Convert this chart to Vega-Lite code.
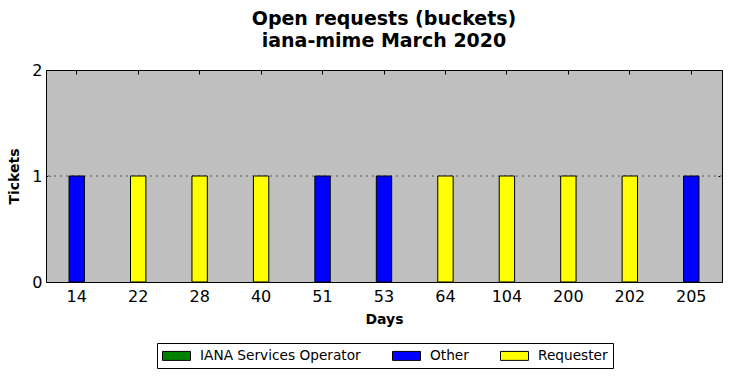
{
  "$schema": "https://vega.github.io/schema/vega-lite/v6.json",
  "autosize": {"type": "none"},
  "width": 676,
  "height": 212,
  "padding": {"left": 46, "top": 70, "right": 9, "bottom": 96},
  "background": "white",
  "title": {
    "text": ["Open requests (buckets)", "iana-mime March 2020"],
    "font": "DejaVu Sans",
    "fontSize": 19,
    "fontWeight": "bold",
    "color": "black",
    "anchor": "middle",
    "offset": 11,
    "lineHeight": 22
  },
  "config": {
    "view": {"fill": "#bfbfbf", "stroke": "black", "strokeWidth": 1},
    "font": "DejaVu Sans",
    "axis": {
      "labelFont": "DejaVu Sans",
      "labelFontSize": 16,
      "labelColor": "black",
      "titleFont": "DejaVu Sans",
      "titleFontSize": 14,
      "titleFontWeight": "bold",
      "titleColor": "black",
      "domain": false,
      "tickColor": "black",
      "tickSize": 4,
      "offset": -4,
      "labelOverlap": false,
      "grid": false
    }
  },
  "resolve": {"axis": {"x": "independent", "y": "independent"}},
  "data": {
    "values": [
      {"days": 14, "role": "Other", "tickets": 1},
      {"days": 22, "role": "Requester", "tickets": 1},
      {"days": 28, "role": "Requester", "tickets": 1},
      {"days": 40, "role": "Requester", "tickets": 1},
      {"days": 51, "role": "Other", "tickets": 1},
      {"days": 53, "role": "Other", "tickets": 1},
      {"days": 64, "role": "Requester", "tickets": 1},
      {"days": 104, "role": "Requester", "tickets": 1},
      {"days": 200, "role": "Requester", "tickets": 1},
      {"days": 202, "role": "Requester", "tickets": 1},
      {"days": 205, "role": "Other", "tickets": 1}
    ]
  },
  "layer": [
    {
      "mark": {"type": "point", "opacity": 0},
      "encoding": {
        "x": {
          "field": "days",
          "type": "ordinal",
          "scale": {"paddingInner": 0.75, "paddingOuter": 0.375},
          "axis": {"orient": "top", "title": null, "labels": false}
        },
        "y": {
          "field": "tickets",
          "type": "quantitative",
          "scale": {"domain": [0, 2], "nice": false},
          "axis": {"orient": "right", "title": null, "labels": false, "values": [0, 1, 2]}
        }
      }
    },
    {
      "mark": {"type": "rule", "color": "#8a8a8a", "strokeDash": [2, 4], "strokeWidth": 1},
      "encoding": {
        "y": {"datum": 1, "type": "quantitative", "axis": null}
      }
    },
    {
      "mark": {"type": "bar", "stroke": "black", "strokeWidth": 1},
      "encoding": {
        "x": {
          "field": "days",
          "type": "ordinal",
          "axis": {
            "orient": "bottom",
            "title": "Days",
            "labelAngle": 0,
            "labelPadding": 6,
            "titlePadding": 8
          }
        },
        "y": {
          "field": "tickets",
          "type": "quantitative",
          "axis": {
            "orient": "left",
            "title": "Tickets",
            "values": [0, 1, 2],
            "format": ".0f",
            "labelOverlap": false,
            "labelFlush": false,
            "labelPadding": 4,
            "titlePadding": 10
          }
        },
        "color": {
          "field": "role",
          "type": "nominal",
          "scale": {
            "domain": ["IANA Services Operator", "Other", "Requester"],
            "range": ["green", "blue", "yellow"]
          },
          "legend": {
            "title": null,
            "orient": "none",
            "direction": "horizontal",
            "legendX": 111,
            "legendY": 273,
            "symbolType": "M-2,-0.64H2V0.64H-2Z",
            "symbolSize": 196,
            "symbolOffset": 7,
            "symbolStrokeColor": "black",
            "symbolStrokeWidth": 1,
            "symbolOpacity": 1,
            "labelFont": "DejaVu Sans",
            "labelFontSize": 13.7,
            "labelColor": "black",
            "labelOffset": 16,
            "labelLimit": 400,
            "columnPadding": 29,
            "strokeColor": "black",
            "fillColor": "white",
            "padding": 5,
            "cornerRadius": 0
          }
        }
      }
    }
  ]
}
